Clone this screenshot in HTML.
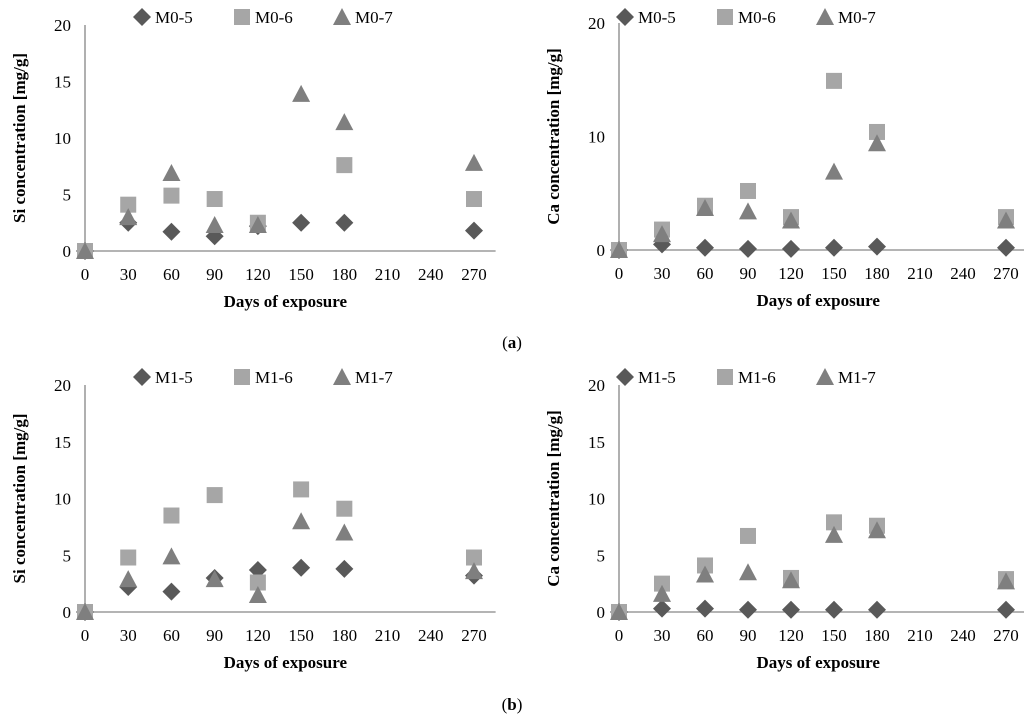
<!DOCTYPE html>
<html><head><meta charset="utf-8"><style>
body{margin:0;background:#fff}
svg{display:block;font-family:"Liberation Serif",serif}
</style></head><body>
<svg id="c" width="1024" height="719"></svg>
<script>
const days=[0,30,60,90,120,150,180,270];
const siA5=[0,2.5,1.7,1.3,2.2,2.5,2.5,1.8];
const siA6=[0,4.1,4.9,4.6,2.5,null,7.6,4.6];
const siA7=[0,3.0,6.9,2.3,2.3,13.9,11.4,7.8];
const caA5=[0,0.5,0.2,0.1,0.1,0.2,0.3,0.2];
const caA6=[0,1.8,3.9,5.2,2.9,14.9,10.4,2.9];
const caA7=[0,1.4,3.7,3.4,2.6,6.9,9.4,2.6];
const siB5=[0,2.2,1.8,3.0,3.7,3.9,3.8,3.2];
const siB6=[0,4.8,8.5,10.3,2.6,10.8,9.1,4.8];
const siB7=[0,2.9,4.9,2.9,1.5,8.0,7.0,3.6];
const caB5=[0,0.3,0.3,0.2,0.2,0.2,0.2,0.2];
const caB6=[0,2.5,4.1,6.7,3.0,7.9,7.6,2.9];
const caB7=[0,1.6,3.3,3.5,2.8,6.8,7.2,2.7];
const xTicks=[0,30,60,90,120,150,180,210,240,270];
const yTicks5=[0,5,10,15,20];
const yTicks10=[0,10,20];
const NS="http://www.w3.org/2000/svg";
const svg=document.getElementById('c');
function mk(t,a,p){const e=document.createElementNS(NS,t);for(const k in a)e.setAttribute(k,a[k]);(p||svg).appendChild(e);return e;}
function marker(g,kind,cx,cy){
  if(kind==0) return mk('polygon',{points:`${cx},${cy-9} ${cx+9},${cy} ${cx},${cy+9} ${cx-9},${cy}`,fill:'#595959'},g);
  if(kind==1) return mk('rect',{x:cx-8,y:cy-8,width:16,height:16,fill:'#a6a6a6'},g);
  return mk('polygon',{points:`${cx},${cy-9} ${cx+9},${cy+8} ${cx-9},${cy+8}`,fill:'#7f7f7f'},g);
}
function panel(name,x0,x270,y0,yTop,yticks,ylab,series,names,legX,legY){
  const g=mk('g',{});
  
  
  const X=d=>x0+(x270-x0)*d/270;
  const Y=v=>y0-(y0-yTop)*v/20;
  const ax=mk('line',{x1:x0,y1:y0,x2:X(285),y2:y0,stroke:'#868686','stroke-width':1.3},g);
  
  
  const ay=mk('line',{x1:x0,y1:y0,x2:x0,y2:yTop,stroke:'#868686','stroke-width':1.3},g);
  
  
  xTicks.forEach(t=>{
    const tx=mk('text',{x:X(t),y:y0+29,'font-size':17,'text-anchor':'middle',fill:'#000'},g);tx.textContent=t;
    
    
  });
  yticks.forEach(t=>{
    const tx=mk('text',{x:x0-14,y:Y(t)+6,'font-size':17,'text-anchor':'end',fill:'#000'},g);tx.textContent=t;
    
    
  });
  const xl=mk('text',{x:(x0+X(285))/2-5,y:y0+56,'font-size':17,'font-weight':'bold','text-anchor':'middle'},g);
  xl.textContent='Days of exposure';
  
  
  const yc=(y0+yTop)/2;
  const yl=mk('text',{x:x0-60,y:yc,'font-size':17,'font-weight':'bold','text-anchor':'middle',transform:`rotate(-90 ${x0-60} ${yc})`},g);
  yl.textContent=ylab;
  
  
  series.forEach((s,k)=>{
    s.forEach((v,i)=>{
      if(v==null)return;
      const m=marker(g,k,X(days[i]),Y(v));
      
      
    });
    const lx=legX+k*100;
    const lm=marker(g,k,lx,legY);
    
    
    const lt=mk('text',{x:lx+13,y:legY+6,'font-size':17},g);lt.textContent=names[k];
    
    
  });
}
panel('si-chart-a',85,474,251,25,yTicks5,'Si concentration [mg/g]',[siA5,siA6,siA7],['M0-5','M0-6','M0-7'],142,17);
panel('ca-chart-a',619,1006,250,23,yTicks10,'Ca concentration [mg/g]',[caA5,caA6,caA7],['M0-5','M0-6','M0-7'],625,17);
panel('si-chart-b',85,474,612,385,yTicks5,'Si concentration [mg/g]',[siB5,siB6,siB7],['M1-5','M1-6','M1-7'],142,377);
panel('ca-chart-b',619,1006,612,385,yTicks5,'Ca concentration [mg/g]',[caB5,caB6,caB7],['M1-5','M1-6','M1-7'],625,377);
[['(a)',348,'caption-a'],['(b)',710,'caption-b']].forEach(c=>{
  const t=mk('text',{x:512,y:c[1],'font-size':17,'text-anchor':'middle'});
  t.innerHTML='(<tspan font-weight="bold">'+c[0][1]+'</tspan>)';
  
  
});
</script>
</body></html>
